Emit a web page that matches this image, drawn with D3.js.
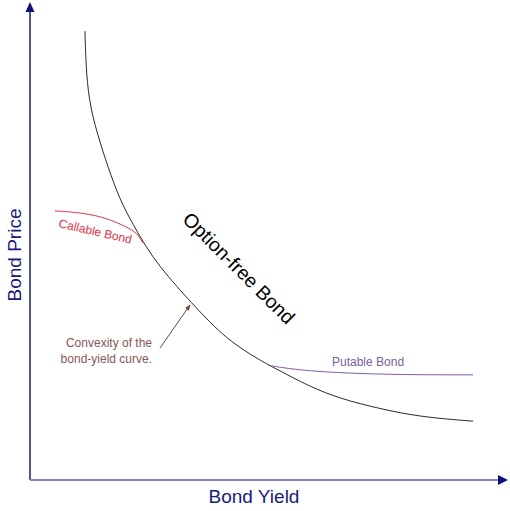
<!DOCTYPE html>
<html>
<head>
<meta charset="utf-8">
<script src="https://cdn.jsdelivr.net/npm/d3@7"></script>
<style>
  body { margin: 0; background: #fff; }
  text { font-family: "Liberation Sans", Arial, sans-serif; }
</style>
</head>
<body>
<div id="graph"></div>
<script>
var w = 510
var h = 511

// curve data, yield (0-10) vs price (0-100)
var optionFreeYield = [1.15, 1.17, 1.23, 1.40, 1.63, 1.88, 2.16, 2.43, 2.72, 3.08, 3.35, 3.77, 4.12, 4.46, 4.81, 5.08, 5.86, 6.49, 7.32, 8.16, 9.27]
var optionFreePrice = [93.9, 86.8, 79.5, 72.6, 65.5, 58.6, 53.4, 48.7, 44.6, 40.4, 37.4, 32.9, 29.7, 27.2, 25.1, 23.6, 19.5, 17.0, 14.9, 13.2, 12.3]

var callableYield = [0.52, 1.11, 1.61, 2.03, 2.24, 2.36]
var callablePrice = [56.3, 55.9, 54.8, 52.9, 51.7, 49.6]

var putableYield = [4.98, 5.65, 6.90, 8.16, 9.27]
var putablePrice = [24.0, 22.9, 22.2, 22.0, 22.0]

var axisLabels = ["Bond Yield", "Bond Price"]
var curveLabels = ["Option-free Bond", "Callable Bond", "Putable Bond"]
var noteLines = ["Convexity of the", "bond-yield curve."]

var x = d3.scaleLinear().domain([0, 10]).range([30, 508])
var y = d3.scaleLinear().domain([0, 100]).range([480, 2])

var svg = d3.select("#graph").append("svg")
    .attr("width", w)
    .attr("height", h)

var line = d3.line()
    .x(function (d) { return x(d[0]) })
    .y(function (d) { return y(d[1]) })
    .curve(d3.curveBasis)

function pairs(xs, ys) {
    return xs.map(function (v, i) { return [v, ys[i]] })
}

// axes
svg.append("line")
    .attr("x1", x(0)).attr("y1", y(0))
    .attr("x2", x(0)).attr("y2", y(98))
    .attr("stroke", "#1c1c5c")
    .attr("stroke-width", 1.5)

svg.append("line")
    .attr("x1", x(0)).attr("y1", y(0))
    .attr("x2", x(9.8)).attr("y2", y(0))
    .attr("stroke", "#8a82c4")
    .attr("stroke-width", 2)

// arrow heads
svg.append("path")
    .attr("d", "M" + x(0) + "," + y(100) + "L" + (x(0) - 4.5) + "," + (y(100) + 10) + "L" + (x(0) + 4.5) + "," + (y(100) + 10) + "Z")
    .attr("fill", "#10107a")

svg.append("path")
    .attr("d", "M" + x(10) + "," + y(0) + "L" + (x(10) - 10) + "," + (y(0) - 5) + "L" + (x(10) - 10) + "," + (y(0) + 5) + "Z")
    .attr("fill", "#10107a")

// curves
svg.append("path")
    .datum(pairs(optionFreeYield, optionFreePrice))
    .attr("d", line)
    .attr("fill", "none")
    .attr("stroke", "#2a2a2a")
    .attr("stroke-width", 1)

svg.append("path")
    .datum(pairs(callableYield, callablePrice))
    .attr("d", line)
    .attr("fill", "none")
    .attr("stroke", "#dc3444")
    .attr("stroke-width", 1)

svg.append("path")
    .datum(pairs(putableYield, putablePrice))
    .attr("d", line)
    .attr("fill", "none")
    .attr("stroke", "#7c5ca4")
    .attr("stroke-width", 1)

// axis titles
svg.append("text")
    .attr("x", 254).attr("y", 503)
    .attr("text-anchor", "middle")
    .attr("font-size", 19)
    .attr("fill", "#1a1a78")
    .text(axisLabels[0])

svg.append("text")
    .attr("transform", "translate(21,255) rotate(-90)")
    .attr("text-anchor", "middle")
    .attr("font-size", 19)
    .attr("fill", "#1a1a78")
    .text(axisLabels[1])

// curve labels
svg.append("text")
    .attr("transform", "translate(239,268) rotate(45)")
    .attr("text-anchor", "middle")
    .attr("dominant-baseline", "central")
    .attr("font-size", 19.5)
    .attr("fill", "#000")
    .text(curveLabels[0])

svg.append("text")
    .attr("transform", "translate(58,227) rotate(13)")
    .attr("font-size", 12)
    .attr("fill", "#dc3444")
    .text(curveLabels[1])

svg.append("text")
    .attr("x", 332).attr("y", 366)
    .attr("font-size", 12)
    .attr("fill", "#7c5ca4")
    .text(curveLabels[2])

// convexity note with arrow
svg.selectAll(".note").data(noteLines).enter().append("text")
    .attr("class", "note")
    .attr("x", 152)
    .attr("y", function (d, i) { return 347 + i * 16 })
    .attr("text-anchor", "end")
    .attr("font-size", 12)
    .attr("fill", "#8a5656")
    .text(function (d) { return d })

svg.append("defs").append("marker")
    .attr("id", "tip")
    .attr("viewBox", "0 0 10 10")
    .attr("refX", 9).attr("refY", 5)
    .attr("markerWidth", 6).attr("markerHeight", 6)
    .attr("orient", "auto")
    .append("path")
    .attr("d", "M0,1L10,5L0,9Z")
    .attr("fill", "#6a4a3a")

svg.append("line")
    .attr("x1", 160).attr("y1", 348)
    .attr("x2", 190).attr("y2", 305)
    .attr("stroke", "#6a4a3a")
    .attr("stroke-width", 1)
    .attr("marker-end", "url(#tip)")
</script>
</body>
</html>
